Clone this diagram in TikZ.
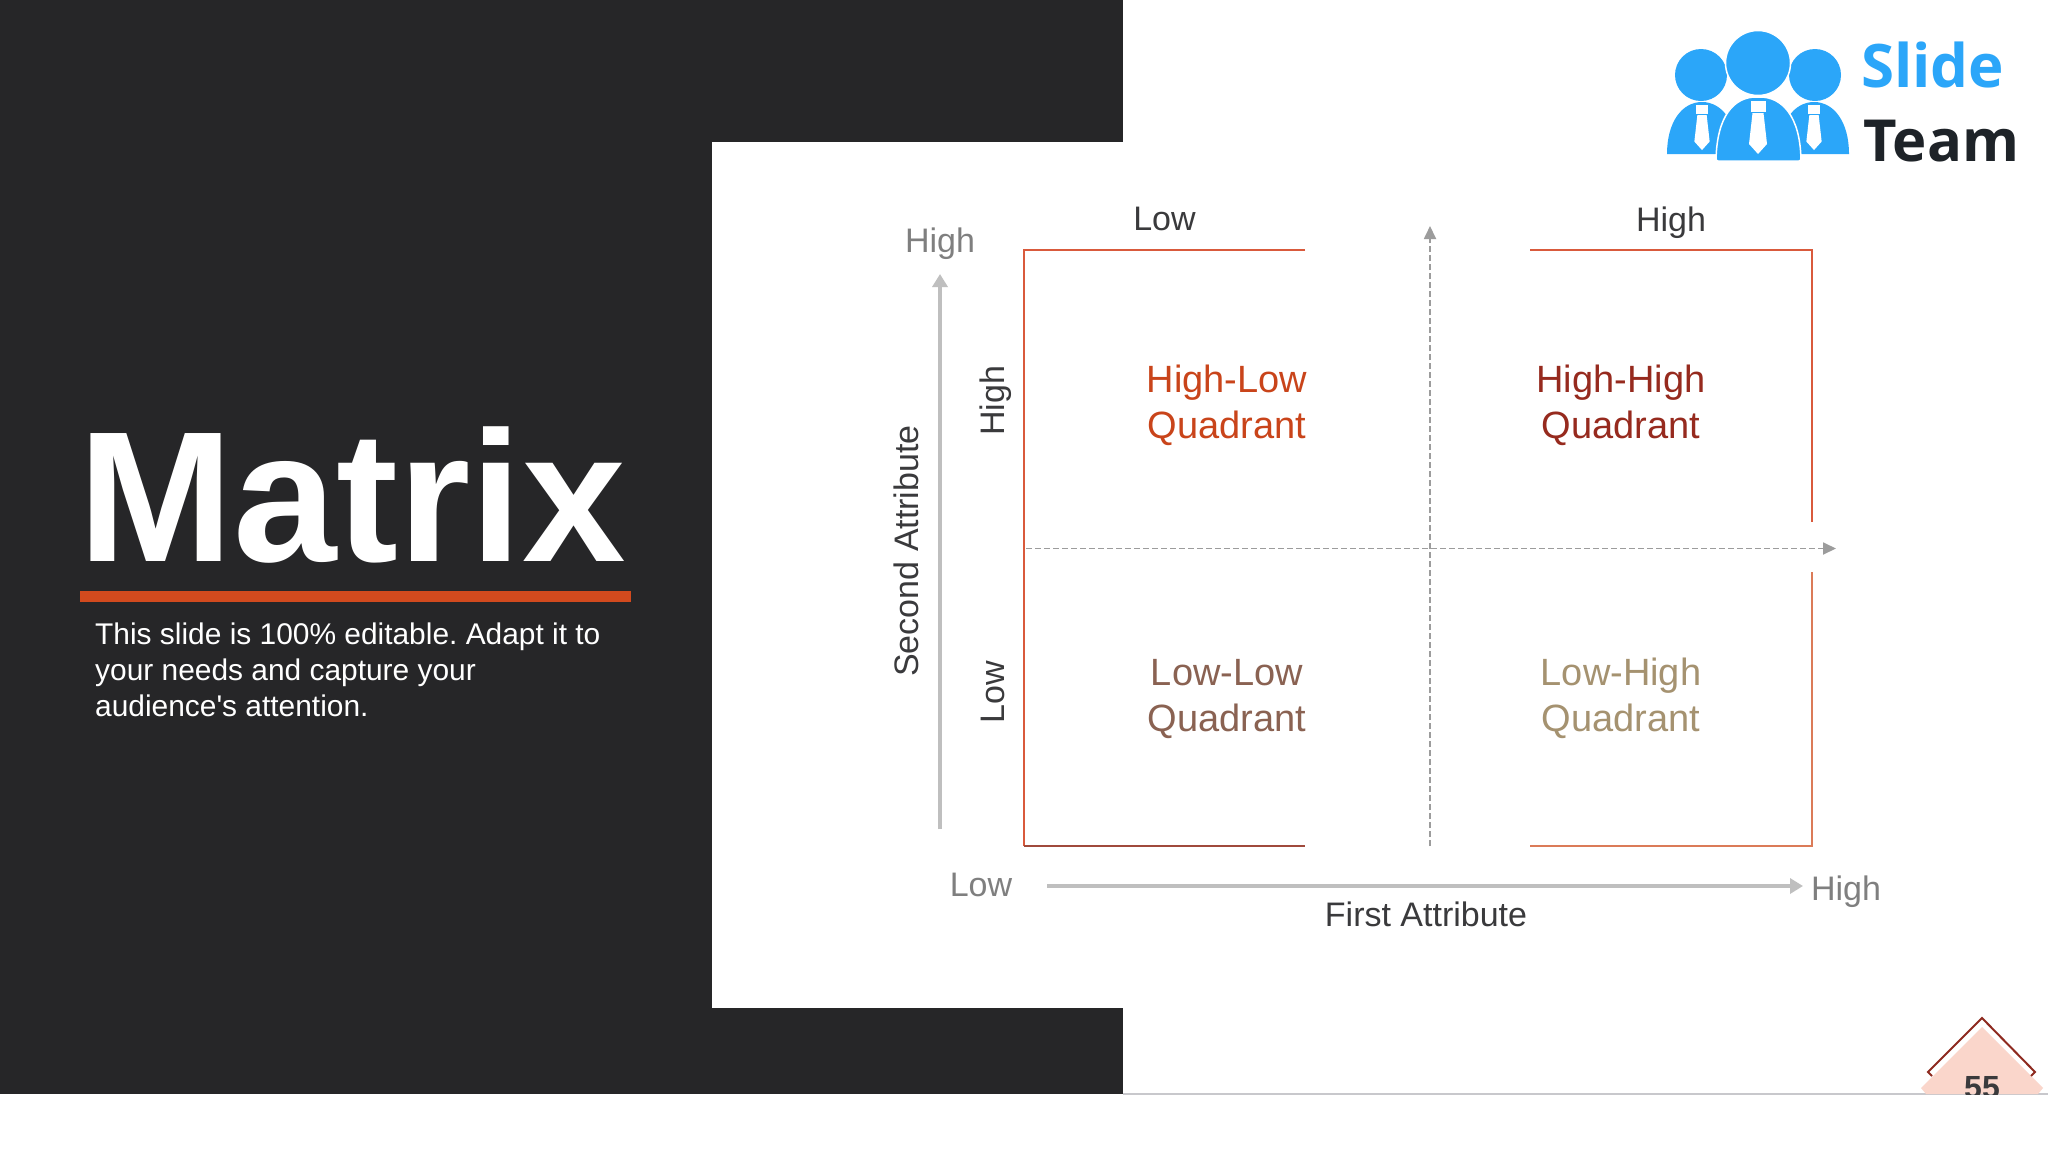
\documentclass[tikz,border=0pt]{standalone}
\usepackage{fontspec}
\setmainfont{Liberation Sans}
\newfontfamily\plainfont{Liberation Sans}
\newfontfamily\logofont{Open Sans}
\usetikzlibrary{arrows.meta}
\definecolor{panel}{HTML}{262628}
\definecolor{barcol}{HTML}{D24A1E}
\definecolor{frameA}{HTML}{D95A3C}
\definecolor{frameB}{HTML}{A04A3C}
\definecolor{frameC}{HTML}{DB7B58}
\definecolor{dashcol}{HTML}{9C9C9C}
\definecolor{axiscol}{HTML}{BFBFBF}
\definecolor{greytxt}{HTML}{7F7F7F}
\definecolor{darktxt}{HTML}{3A3A3C}
\definecolor{qHL}{HTML}{C9441A}
\definecolor{qHH}{HTML}{962A1E}
\definecolor{qLL}{HTML}{8A6252}
\definecolor{qLH}{HTML}{A59270}
\definecolor{logoblue}{HTML}{2BA6F9}
\definecolor{logodark}{HTML}{1E2328}
\definecolor{tagfill}{HTML}{FAD6CB}
\definecolor{tagline}{HTML}{8E2A20}
\definecolor{rulecol}{HTML}{C8C8CC}
\tikzset{
  lbl/.style={inner sep=0pt,font=\fontsize{34}{40}\selectfont},
  quad/.style={inner sep=0pt,align=center,font=\fontsize{38}{46}\selectfont},
  dashaxis/.style={draw=dashcol,line width=1.8pt,dash pattern=on 6pt off 3pt,-{Triangle[length=13pt,width=12pt]}},
  solidaxis/.style={draw=axiscol,line width=4.5pt,-{Triangle[length=13pt,width=15pt]}},
  person/.style={fill=logoblue,draw=white,line width=1.5pt},
  tie/.style={fill=white,draw=none}
}
\frenchspacing
\begin{document}
\begin{tikzpicture}[x=1pt,y=-1pt]
\useasboundingbox (0,0) rectangle (2048,1152);
\fill[white] (0,0) rectangle (2048,1152);
% panels
\fill[panel] (0,0) rectangle (1123,1094);
\fill[white] (712,142) rectangle (1123,1008);
\draw[rulecol,line width=1.2pt] (1123,1094) -- (2048,1094);
% left column
\node[anchor=base west,inner sep=0pt,text=white,font=\bfseries\fontsize{186}{190}\selectfont] (title) at (78,561) {Matrix};
\fill[barcol] (80,591) rectangle (631,602);
\node[anchor=north west,inner sep=0pt,align=left,text=white,font=\plainfont\frenchspacing\fontsize{29.9}{36}\selectfont] (intro) at (95,623) {This slide is 100\% editable. Adapt it to\\your needs and capture your\\audience's attention.};
% matrix frame
\coordinate (tl) at (1024,250);
\coordinate (tla) at (1305,250);
\coordinate (tra) at (1530,250);
\coordinate (tr) at (1812,250);
\coordinate (rm1) at (1812,522);
\coordinate (rm2) at (1812,572);
\coordinate (bl) at (1024,846);
\coordinate (bla) at (1305,846);
\coordinate (bra) at (1530,846);
\coordinate (br) at (1812,846);
\draw[frameA,line width=1.2pt] (tla) -- (tl) -- (bl);
\draw[frameB,line width=1.8pt] (bl) -- (bla);
\draw[frameA,line width=1.2pt] (tra) -- (tr) -- (rm1);
\draw[frameC,line width=1.5pt] (rm2) -- (br) -- (bra);
% dashed axes
\coordinate (hs) at (1026,548.5);
\coordinate (he) at (1836,548.5);
\coordinate (vs) at (1430,846);
\coordinate (ve) at (1430,226);
\draw[dashaxis] (hs) -- (he);
\draw[dashaxis] (vs) -- (ve);
% solid axes
\coordinate (ys) at (940,829);
\coordinate (ye) at (940,274);
\coordinate (xs) at (1047,886);
\coordinate (xe) at (1803,886);
\draw[solidaxis] (ys) -- (ye);
\draw[solidaxis] (xs) -- (xe);
% labels
\node[lbl,text=greytxt] (l1) at (940,244) {High};
\node[lbl,text=darktxt] (l2) at (1164.5,219) {Low};
\node[lbl,text=darktxt] (l3) at (1671,223) {High};
\node[lbl,text=darktxt,rotate=90] (l4) at (995.5,401) {High};
\node[lbl,text=darktxt,rotate=90] (l5) at (993,692) {Low};
\node[lbl,text=darktxt,rotate=90] (l6) at (906,551) {Second Attribute};
\node[lbl,text=greytxt] (l7) at (981,885) {Low};
\node[lbl,text=greytxt] (l8) at (1846,892) {High};
\node[lbl,text=darktxt] (l9) at (1426,914) {First Attribute};
% quadrants
\node[quad,text=qHL] (q1) at (1227,405) {High-Low\\Quadrant};
\node[quad,text=qHH] (q2) at (1621,405) {High-High\\Quadrant};
\node[quad,text=qLL] (q3) at (1227,699.5) {Low-Low\\Quadrant};
\node[quad,text=qLH] (q4) at (1621,698.5) {Low-High\\Quadrant};
% logo
\fill[logoblue] (1701,75) circle (26);
\fill[logoblue] (1815,75) circle (26);
\filldraw[person] (1758,63) circle (32.5);
\filldraw[fill=logoblue,draw=none] (1667,154) .. controls (1667,122) and (1682,102) .. (1702,102) .. controls (1722,102) and (1737,122) .. (1737,154) -- cycle;
\filldraw[fill=logoblue,draw=none] (1779,154) .. controls (1779,122) and (1794,102) .. (1814,102) .. controls (1834,102) and (1849,122) .. (1849,154) -- cycle;
\filldraw[person,rounded corners=2pt] (1716,161) .. controls (1717,116) and (1734,97) .. (1758,97) .. controls (1782,97) and (1800,116) .. (1801,161) -- cycle;
\foreach \tx/\ty/\ts in {1758/101/1,1702/105/0.85,1814/105/0.85}{
  \begin{scope}[shift={(\tx,\ty)},scale=\ts]
    \fill[tie] (-7.5,0) rectangle (7.5,11);
    \fill[tie] (-5.5,12) -- (5.5,12) -- (9,43) -- (0,53) -- (-9,43) -- cycle;
  \end{scope}
}
\node[anchor=base west,inner sep=0pt,text=logoblue,font=\logofont\bfseries\fontsize{60}{64}\selectfont] (slide) at (1861,87) {Slide};
\node[anchor=base west,inner sep=0pt,text=logodark,font=\logofont\bfseries\fontsize{58}{64}\selectfont] (team) at (1863,161) {Team};
% page tag
\begin{scope}
  \clip (1900,1000) rectangle (2048,1094);
  \fill[tagfill] (1982,1027) -- (2043,1088) -- (2038,1094) -- (1926,1094) -- (1921,1088) -- cycle;
  \node[anchor=base,inner sep=0pt,text=darktxt,font=\bfseries\fontsize{32}{36}\selectfont] (page) at (1982,1098) {55};
\end{scope}
\coordinate (tagL) at (1932,1076);
\coordinate (tagL2) at (1928,1072);
\coordinate (tagT) at (1982,1018);
\coordinate (tagR2) at (2035,1072);
\coordinate (tagR) at (2031,1076);
\draw[tagline,line width=2pt] (tagL) -- (tagL2) -- (tagT) -- (tagR2) -- (tagR);
\end{tikzpicture}
\end{document}
